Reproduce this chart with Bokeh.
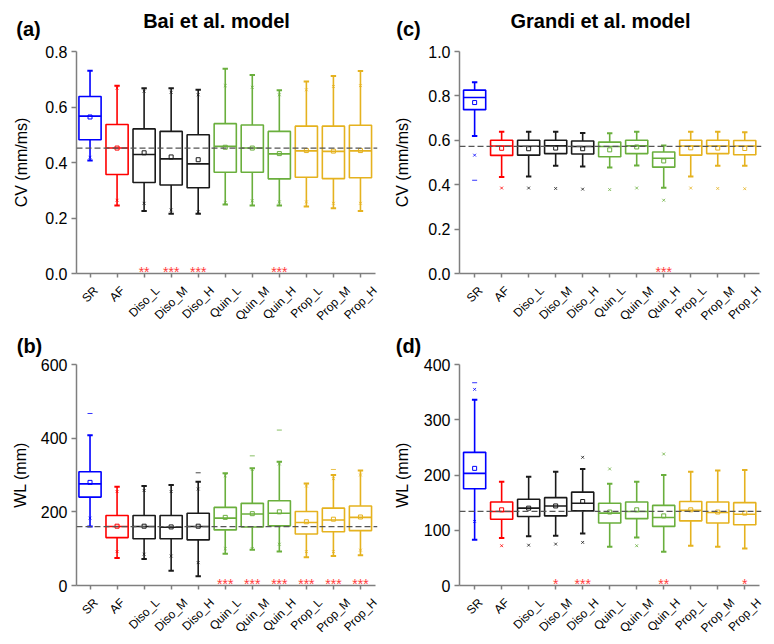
import math
from bokeh.plotting import figure
from bokeh.layouts import column, row
from bokeh.models import Span, FixedTicker, NumeralTickFormatter, Range1d
from bokeh.core.properties import value
from bokeh.embed import file_html
from bokeh.resources import INLINE

categories = ["SR", "AF", "Diso_L", "Diso_M", "Diso_H", "Quin_L", "Quin_M",
              "Quin_H", "Prop_L", "Prop_M", "Prop_H"]

# ---------------- (a) Bai et al. model, CV (mm/ms) ----------------
a_hi = [0.731, 0.677, 0.668, 0.668, 0.662, 0.738, 0.715, 0.660, 0.692, 0.712, 0.730]
a_q3 = [0.638, 0.537, 0.521, 0.512, 0.500, 0.540, 0.535, 0.512, 0.531, 0.531, 0.534]
a_med = [0.567, 0.452, 0.429, 0.413, 0.395, 0.458, 0.452, 0.431, 0.442, 0.440, 0.442]
a_mean = [0.564, 0.452, 0.435, 0.420, 0.410, 0.455, 0.452, 0.432, 0.443, 0.441, 0.443]
a_q1 = [0.482, 0.357, 0.328, 0.319, 0.309, 0.365, 0.365, 0.341, 0.347, 0.342, 0.345]
a_lo = [0.407, 0.245, 0.225, 0.215, 0.215, 0.249, 0.245, 0.245, 0.241, 0.235, 0.225]
a_xhi = [None, 0.668, 0.657, 0.653, 0.644, 0.677, 0.671, 0.644, 0.662, 0.674, 0.677]
a_xlo = [0.419, 0.264, 0.253, 0.229, 0.222, 0.255, 0.262, 0.258, 0.258, 0.253, 0.253]
a_dash = [None] * 11
a_ref = 0.452
a_stars = ["", "", "**", "***", "***", "", "", "***", "", "", ""]

# ---------------- (b) Bai et al. model, WL (mm) ----------------
b_hi = [408, 268, 270, 273, 282, 305, 318, 336, 277, 300, 312]
b_q3 = [309, 190, 190, 190, 196, 212, 223, 230, 201, 210, 216]
b_med = [276, 160, 160, 158, 160, 183, 194, 196, 171, 178, 185]
b_mean = [280, 161, 161, 159, 161, 185, 195, 200, 173, 180, 186]
b_q1 = [240, 130, 127, 127, 124, 151, 159, 162, 140, 146, 149]
b_lo = [160, 75, 72, 40, 25, 86, 97, 92, 77, 80, 82]
b_xhi = [None, 255, 258, 255, 262, 298, 315, 330, 270, 290, 300]
b_xlo = [183, 92, 85, 80, 62, 100, 100, 112, 92, 92, 96]
b_dash = [467, None, None, None, 306, None, 352, 422, None, 315, None]
b_ref = 160
b_stars = ["", "", "", "", "", "***", "***", "***", "***", "***", "***"]

# ---------------- (c) Grandi et al. model, CV (mm/ms) ----------------
c_hi = [0.862, 0.638, 0.638, 0.638, 0.633, 0.632, 0.638, 0.577, 0.638, 0.638, 0.636]
c_q3 = [0.826, 0.600, 0.600, 0.600, 0.597, 0.592, 0.600, 0.547, 0.600, 0.600, 0.599]
c_med = [0.793, 0.574, 0.573, 0.575, 0.572, 0.572, 0.575, 0.519, 0.574, 0.574, 0.574]
c_mean = [0.770, 0.564, 0.562, 0.565, 0.562, 0.557, 0.570, 0.507, 0.566, 0.565, 0.563]
c_q1 = [0.738, 0.532, 0.533, 0.540, 0.538, 0.526, 0.540, 0.479, 0.533, 0.540, 0.535]
c_lo = [0.619, 0.435, 0.437, 0.485, 0.482, 0.478, 0.487, 0.386, 0.437, 0.485, 0.485]
c_xhi = [None] * 11
c_xlo = [0.533, 0.385, 0.385, 0.383, 0.380, 0.378, 0.385, 0.330, 0.385, 0.383, 0.382]
c_dash = [0.420, None, None, None, None, None, None, None, None, None, None]
c_ref = 0.573
c_stars = ["", "", "", "", "", "", "", "***", "", "", ""]

# ---------------- (d) Grandi et al. model, WL (mm) ----------------
d_hi = [336, 188, 197, 206, 211, 184, 188, 200, 206, 208, 209]
d_q3 = [241, 151, 156, 159, 169, 149, 151, 145, 152, 151, 150]
d_med = [203, 134, 140, 144, 149, 131, 134, 123, 136, 132, 129]
d_mean = [212, 137, 140, 144, 152, 133, 137, 126, 137, 133, 131]
d_q1 = [175, 120, 125, 126, 135, 113, 121, 107, 117, 113, 110]
d_lo = [83, 86, 89, 90, 94, 70, 87, 61, 72, 70, 67]
d_xhi = [355, None, None, None, 232, 211, None, 238, None, None, None]
d_xlo = [116, 72, 73, 75, 78, None, 72, None, None, None, None]
d_dash = [367, None, None, None, None, None, None, None, None, None, None]
d_ref = 134
d_stars = ["", "", "", "*", "***", "", "", "**", "", "", "*"]

titles = ["Bai et al. model", "Grandi et al. model"]
letters = ["(a)", "(c)", "(b)", "(d)"]

colors = ["#0000FF", "#FF0000", "#1A1A1A", "#1A1A1A", "#1A1A1A",
          "#6AAF3D", "#6AAF3D", "#6AAF3D", "#E5B21F", "#E5B21F", "#E5B21F"]

FONT = "Liberation Sans"
AXIS_GRAY = "#7F7F7F"
XLAB_SIZE = 12

# approximate Arial/Liberation Sans advance widths (em) for label centring
_W = {"S": .667, "R": .722, "A": .667, "F": .611, "D": .722, "i": .222, "s": .5,
      "o": .556, "_": .556, "L": .556, "M": .833, "H": .722, "Q": .778, "u": .556,
      "n": .556, "P": .667, "r": .333, "p": .556}


def text_len(t, size):
    return sum(_W.get(ch, .556) for ch in t) * size


def make_panel(geom, yr, yticks, yfmt, ylabel, ylab_standoff,
               hi, q3, med, mean, q1, lo, xhi, xlo, dash, ref, stars):
    w, h, bl, br, bt, bb, xr, xbounds = geom
    p = figure(width=w, height=h, x_range=xr, y_range=yr, title=None,
               output_backend="svg", toolbar_location=None,
               min_border_left=bl, min_border_right=br,
               min_border_top=bt, min_border_bottom=bb)
    p.outline_line_color = None
    p.xgrid.visible = False
    p.ygrid.visible = False
    p.background_fill_color = "white"
    p.border_fill_color = "white"

    n = len(categories)
    xs = list(range(1, n + 1))
    bw = 0.41
    cw = 0.1
    lw = 1.6

    p.quad(left=[x - bw for x in xs], right=[x + bw for x in xs],
           bottom=q1, top=q3, fill_alpha=0, line_color=colors, line_width=lw)
    p.segment(x0=[x - bw for x in xs], x1=[x + bw for x in xs], y0=med, y1=med,
              line_color=colors, line_width=lw)
    p.segment(x0=xs, x1=xs, y0=q3, y1=hi, line_color=colors, line_width=lw)
    p.segment(x0=xs, x1=xs, y0=q1, y1=lo, line_color=colors, line_width=lw)
    p.segment(x0=[x - cw for x in xs], x1=[x + cw for x in xs], y0=hi, y1=hi,
              line_color=colors, line_width=2)
    p.segment(x0=[x - cw for x in xs], x1=[x + cw for x in xs], y0=lo, y1=lo,
              line_color=colors, line_width=2)
    p.scatter(xs, mean, marker="square", size=4, fill_alpha=0,
              line_color=colors, line_width=1)

    for arr, mk, sz in ((xhi, "x", 4), (xlo, "x", 4), (dash, "dash", 5)):
        px = [x for x, v in zip(xs, arr) if v is not None]
        py = [v for v in arr if v is not None]
        pc = [c for c, v in zip(colors, arr) if v is not None]
        if px:
            p.scatter(px, py, marker=mk, size=sz, line_color=pc, line_width=1, line_alpha=0.8)

    p.add_layout(Span(location=ref, dimension="width", line_color="#555555",
                      line_dash="6 3", line_width=1.3))

    sx = [x for x, s in zip(xs, stars) if s]
    st = [s for s in stars if s]
    p.text(x=sx, y=[yr[0]] * len(sx), text=st, text_align="center",
           text_baseline="middle", y_offset=-2, text_color="#FF3B3B",
           text_font_size="14px", text_font=value(FONT))

    # x axis: category tick marks as minor ticks, labels on shifted major
    # ticks so that each rotated label is centred under its category
    fw = w - bl - br
    ppu = fw / (xr[1] - xr[0])
    shifted = [round(x + 0.354 * text_len(c, XLAB_SIZE) / ppu, 4)
               for x, c in zip(xs, categories)]
    xa = p.xaxis[0]
    xa.ticker = FixedTicker(ticks=shifted, minor_ticks=xs)
    xa.major_label_overrides = {s: c for s, c in zip(shifted, categories)}
    xa.bounds = xbounds
    xa.major_label_orientation = math.pi / 4
    xa.major_label_text_font = FONT
    xa.major_label_text_font_size = f"{XLAB_SIZE}px"
    xa.major_label_text_color = "black"
    xa.major_label_standoff = 11
    xa.axis_line_color = AXIS_GRAY
    xa.axis_line_width = 1.5
    xa.major_tick_line_color = None
    xa.major_tick_out = 0
    xa.major_tick_in = 0
    xa.minor_tick_line_color = AXIS_GRAY
    xa.minor_tick_line_width = 1.5
    xa.minor_tick_out = 4
    xa.minor_tick_in = 0

    ya = p.yaxis[0]
    ya.ticker = FixedTicker(ticks=yticks)
    ya.formatter = NumeralTickFormatter(format=yfmt)
    ya.major_label_text_font = FONT
    ya.major_label_text_font_size = "16px"
    ya.major_label_text_color = "black"
    ya.axis_line_color = AXIS_GRAY
    ya.axis_line_width = 1.5
    ya.major_tick_line_color = AXIS_GRAY
    ya.major_tick_line_width = 1.5
    ya.major_tick_out = 5
    ya.major_tick_in = 0
    ya.minor_tick_line_color = None
    ya.major_label_standoff = 4
    ya.axis_label = ylabel
    ya.axis_label_text_font = FONT
    ya.axis_label_text_font_size = "16px"
    ya.axis_label_text_font_style = "normal"
    ya.axis_label_text_color = "black"
    ya.axis_label_standoff = ylab_standoff
    return p


def make_strip(w, h, title_items, letter_items):
    s = figure(width=w, height=h, x_range=Range1d(0, w), y_range=Range1d(h, 0),
               x_axis_type=None, y_axis_type=None, title=None,
               output_backend="svg", toolbar_location=None, min_border=0)
    s.outline_line_color = None
    s.background_fill_color = "white"
    s.border_fill_color = "white"
    if title_items:
        s.text(x=[t[0] for t in title_items], y=[t[1] for t in title_items],
               text=[t[2] for t in title_items], text_align="center",
               text_baseline="middle", text_font=value(FONT),
               text_font_size="20px", text_font_style="bold", text_color="black")
    s.text(x=[t[0] for t in letter_items], y=[t[1] for t in letter_items],
           text=[t[2] for t in letter_items], text_align="center",
           text_baseline="middle", text_font=value(FONT),
           text_font_size="20px", text_font_style="bold", text_color="black")
    return s


XR_L = (0.5, 11.63)
XR_R = (0.44, 11.62)
TOP_H = 44
B1 = 58
B2 = 57
H1 = 7 + 222 + B1
H2 = 7 + 222 + B2

pa = make_panel((387, H1, 76, 10, 7, B1, XR_L, (0.5, 11.54)),
                (0, 0.8), [0, 0.2, 0.4, 0.6, 0.8], "0.0", "CV (mm/ms)", 12,
                a_hi, a_q3, a_med, a_mean, a_q1, a_lo, a_xhi, a_xlo, a_dash, a_ref, a_stars)
pc = make_panel((379, H1, 72, 5, 7, B1, XR_R, (0.44, 11.55)),
                (0, 1.0), [0, 0.2, 0.4, 0.6, 0.8, 1.0], "0.0", "CV (mm/ms)", 14,
                c_hi, c_q3, c_med, c_mean, c_q1, c_lo, c_xhi, c_xlo, c_dash, c_ref, c_stars)
pb = make_panel((387, H2, 76, 10, 7, B2, XR_L, (0.5, 11.54)),
                (0, 600), [0, 200, 400, 600], "0", "WL (mm)", 9,
                b_hi, b_q3, b_med, b_mean, b_q1, b_lo, b_xhi, b_xlo, b_dash, b_ref, b_stars)
pd = make_panel((379, H2, 72, 5, 7, B2, XR_R, (0.44, 11.55)),
                (0, 400), [0, 100, 200, 300, 400], "0", "WL (mm)", 10,
                d_hi, d_q3, d_med, d_mean, d_q1, d_lo, d_xhi, d_xlo, d_dash, d_ref, d_stars)

strip_top = make_strip(766, TOP_H, [(216, 20, titles[0]), (600, 20, titles[1])],
                       [(28, 28, letters[0]), (408, 28, letters[1])])
MID_H = 364 - 7 - (TOP_H + H1)
strip_mid = make_strip(766, MID_H, [], [(29, 14, letters[2]), (408, 14, letters[3])])

layout = column(strip_top, row(pa, pc), strip_mid, row(pb, pd))
open("out.html", "w").write(file_html(layout, INLINE))
